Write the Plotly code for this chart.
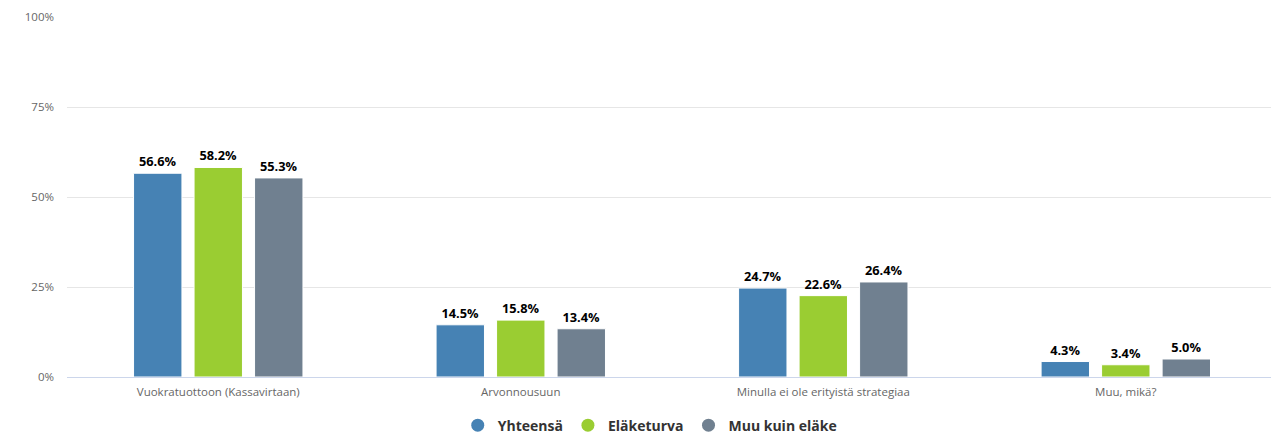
import plotly.graph_objects as go

categories = ["Vuokratuottoon (Kassavirtaan)", "Arvonnousuun", "Minulla ei ole erityistä strategiaa", "Muu, mikä?"]
series_names = ["Yhteensä", "Eläketurva", "Muu kuin eläke"]
yhteensa = [56.6, 14.5, 24.7, 4.3]
elaketurva = [58.2, 15.8, 22.6, 3.4]
muu_kuin_elake = [55.3, 13.4, 26.4, 5.0]
colors = ["#4682B4", "#9ACD32", "#708090"]
y_ticks = [0, 25, 50, 75, 100]
y_tick_labels = ["0%", "25%", "50%", "75%", "100%"]

FONT = "Open Sans, DejaVu Sans, sans-serif"

fig = go.Figure()
for name, vals, col in zip(series_names, [yhteensa, elaketurva, muu_kuin_elake], colors):
    fig.add_trace(go.Bar(
        x=categories, y=vals, name=name, marker=dict(color=col, line=dict(color="white", width=1)),
        text=[f"{v:.1f}%" for v in vals], textposition="outside", cliponaxis=False,
        textfont=dict(family=FONT, size=12.8, color="#000000", weight="bold"),
        showlegend=False, hoverinfo="x+y",
    ))
for name, col in zip(series_names, colors):
    fig.add_trace(go.Scatter(
        x=[None], y=[None], mode="markers", name=name,
        marker=dict(color=col, size=13, symbol="circle"), showlegend=True,
    ))

fig.update_layout(
    width=1271, height=437,
    margin=dict(l=67, r=0, t=17, b=60, autoexpand=False),
    paper_bgcolor="white", plot_bgcolor="white",
    barmode="group", bargap=0.4, bargroupgap=0.2,
    font=dict(family=FONT, size=11.5, color="#666666"),
    legend=dict(orientation="h", x=0.484, xanchor="center", y=-0.135, yanchor="middle",
                font=dict(family=FONT, size=14, color="#333333", weight="bold"),
                itemwidth=30, traceorder="normal"),
    xaxis=dict(range=[-0.5, 3.48], showgrid=False, showline=True, linecolor="#ccd6eb",
               linewidth=1, ticks="", tickfont=dict(size=11.5, color="#666666"),
               ticklabelstandoff=4),
    yaxis=dict(range=[0, 100], tickvals=y_ticks, ticktext=y_tick_labels, showgrid=True,
               gridcolor="#e6e6e6", zeroline=False, showline=False,
               tickfont=dict(size=11.5, color="#666666"), ticklabelstandoff=12),
)

fig.write_html("out.html")
